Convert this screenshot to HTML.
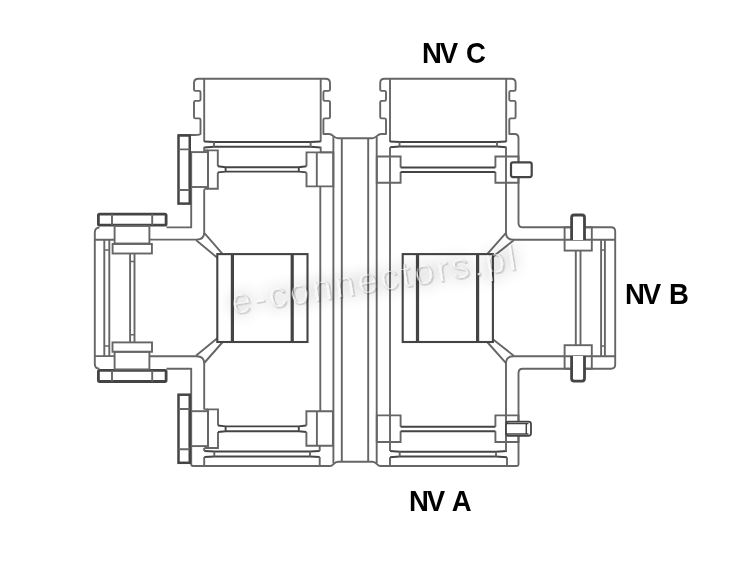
<!DOCTYPE html>
<html><head><meta charset="utf-8">
<style>
html,body{margin:0;padding:0;background:#fff;}
body{width:750px;height:561px;overflow:hidden;position:relative;font-family:"Liberation Sans",sans-serif;}
svg{position:absolute;left:0;top:0;filter:blur(0.3px);}
.l{position:absolute;font-weight:bold;color:#000;font-size:27px;line-height:1;white-space:nowrap;transform:scale(1.02,1.08);transform-origin:0 0;}
</style></head><body>
<svg width="750" height="561" viewBox="0 0 750 561">
<g fill="none" stroke="#666" stroke-width="1.9" stroke-linejoin="round">
<!-- caps outline + column top -->
<path d="M178,135 H194.5 Q200.5,135 200.5,134 V119.80000000000001 Q200.5,118.4 199.1,118.4 H195.4 Q194,118.4 194,117.0 V102.30000000000001 Q194,100.9 195.4,100.9 H199.1 Q200.5,100.9 200.5,99.5 V92.30000000000001 Q200.5,90.9 199.1,90.9 H195.4 Q194,90.9 194,89.5 V83 Q194,78.7 198.5,78.7 H325.5 Q330,78.7 330,83 V89.5 Q330,90.9 328.6,90.9 H324.79999999999995 Q323.4,90.9 323.4,92.30000000000001 V99.5 Q323.4,100.9 324.79999999999995,100.9 H328.6 Q330,100.9 330,102.30000000000001 V117.0 Q330,118.4 328.6,118.4 H324.79999999999995 Q323.4,118.4 323.4,119.80000000000001 V134 H329 C333,134 334,138.3 338,138.3 H372.2 C376.2,138.3 377.2,134 381.2,134 H386 V119.80000000000001 Q386,118.4 384.6,118.4 H381.59999999999997 Q380.2,118.4 380.2,117.0 V102.30000000000001 Q380.2,100.9 381.59999999999997,100.9 H384.6 Q386,100.9 386,99.5 V92.30000000000001 Q386,90.9 384.6,90.9 H381.59999999999997 Q380.2,90.9 380.2,89.5 V83 Q380.2,78.8 384.5,78.8 H511.3 Q515.6,78.8 515.6,83 V89.5 Q515.6,90.9 514.2,90.9 H510.7 Q509.3,90.9 509.3,92.30000000000001 V99.5 Q509.3,100.9 510.7,100.9 H514.2 Q515.6,100.9 515.6,102.30000000000001 V117.0 Q515.6,118.4 514.2,118.4 H510.7 Q509.3,118.4 509.3,119.80000000000001 V134 H514.5 Q518.5,134 518.5,138 V223 Q518.5,227.3 522.8,227.3 H611 Q615.2,227.3 615.2,231.5 V364.5 Q615.2,368.7 611,368.7 H522.8 Q518.5,368.7 518.5,373 V464.5 Q518.5,466 517,466 H380.5 C376.8,466 377,461.8 372.5,461.8 H338 C333.5,461.8 333.7,466 330,466 H193 Q191.2,466 191.2,464 V368.7 H166.5"/>
<!-- left port outer -->
<path d="M191.2,151.8 V227.4 H166.5"/>
<path d="M99.5,227.6 Q94.8,227.6 94.8,232.5 V364 Q94.8,368.6 99.5,368.6"/>
<!-- cap inner verticals -->
<path d="M204.2,78.7 V141.8 M320.7,78.7 V141.8 M390,78.8 V142 M506.2,78.8 V142" />
<!-- column -->
<path d="M333.4,136.2 V463.5 M341.8,138.3 V461.8 M368.2,138.3 V461.8 M376.7,136.2 V463.5"/>
</g>
<g fill="none" stroke="#444" stroke-width="2">
<!-- cap bottoms -->
<path d="M204.2,141.4 L214,142 H310.6 L320.7,141.4 M204.2,147.4 L214,146.8 H310.6 L320.7,147.4 M390,141.4 L399.5,142 H497 L506.2,141.4 M390,147.2 L399.5,146.6 H497 L506.2,147.2"/>
<path d="M204.3,451.0 L214.3,451.6 H310 L319.7,451.0 M204.3,457.0 L214.3,456.4 H310 L319.7,457.0 M390,451.09999999999997 L399.7,451.7 H496 L507,451.09999999999997 M390,457.20000000000005 L399.7,456.6 H496 L507,457.20000000000005"/>
</g>
<g fill="none" stroke="#666" stroke-width="1.9">
<!-- ticks top bands -->
<path d="M214,142 V146.8 M310.6,142 V146.8 M399.5,142 V146.6 M497,142 V146.6"/>
<path d="M214.3,451.6 V456.4 M310,451.6 V456.4 M399.7,451.7 V456.6 M496,451.7 V456.6"/>
<!-- body top lines left -->
<path d="M204.2,152.1 V146.8 M320.7,146.8 V152.4 H333.5"/>
<!-- left body inner walls -->
<path d="M204.2,189.3 V232.5 Q204.2,239.6 196.5,239.6 H149.4 M204.2,232.8 L222.7,254.1 M196.2,240.3 L217.3,257.7"/>
<path d="M204.2,409.4 V363.5 Q204.2,356.2 196.5,356.2 H149.4 M204.2,363 L222.7,342 M196.2,355.5 L217.3,338.3"/>
<path d="M204.2,448 V451 M204.2,457 V466 M319.7,457 V466 M319.7,445.8 V451"/>
<path d="M320.3,186.4 V411.3"/>
<!-- blocks top-left -->
<rect x="189.7" y="152.1" width="18.3" height="34.9"/>
<path d="M217.8,166.3 V150.4 H208 V188.8 H217.8 V172.4"/>
<path d="M204.3,150.4 H208 M204.3,188.8 H208"/>
<path d="M217.8,166.3 L225.6,167.3 H298.8 L306.5,166.3 M217.8,172.4 L225.6,171.6 H298.8 L306.5,172.4 M225.6,167.3 V171.6 M298.8,167.3 V171.6" stroke="#444"/>
<path d="M306.5,166.3 V152.4 H333.3 V186.4 H306.5 V172.4"/>
<path d="M316.8,152.4 V186.4"/>
<!-- blocks bottom-left -->
<rect x="189.7" y="411.2" width="18.3" height="34.9"/>
<path d="M218,425.5 V409.4 H208 V448 H218 V432"/>
<path d="M204.3,409.4 H208 M204.3,448 H208"/>
<path d="M218,425.5 L225.6,426.4 H298.8 L306.4,425.5 M218,432 L225.6,431.2 H298.8 L306.4,432 M225.6,426.4 V431.2 M298.8,426.4 V431.2" stroke="#444"/>
<path d="M306.4,425.5 V411.3 H332.9 V445.8 H306.4 V432"/>
<path d="M316.9,411.3 V445.8"/>
<!-- right body -->
<path d="M390,147.2 V451.1 M390,457.2 V466 M507,457.2 V466"/>
<path d="M506,146.8 V232.5 Q506,239.7 513.7,239.7 H615.2 M506,232.8 L487.2,254.1 M513.7,240.3 L493.2,256.5"/>
<path d="M506,451.4 V363.5 Q506,356.2 513.7,356.2 H615.2 M506,363.2 L487.2,342 M513.7,355.7 L493.2,339.5"/>
<path d="M400.6,167.5 V156.5 H376.8 V182.8 H400.6 V171.9"/>
<path d="M495.4,167.5 V156.5 H518.5 V182.8 H495.4 V171.9"/>
<path d="M400.6,426.7 V415.4 H376.8 V442 H400.6 V431.2"/>
<path d="M495.4,426.7 V415.4 H518.5 V442 H495.4 V431.2"/>
</g>
<g fill="none" stroke="#444" stroke-width="2">
<path d="M400.6,167.5 H495.4 M400.6,171.9 H495.4"/>
<path d="M400.6,426.7 H495.4 M400.6,431.2 H495.4"/>
<!-- flanges -->
<rect x="178.5" y="135.5" width="11.25" height="68.1" stroke-width="2.5"/>
<rect x="178.5" y="394.7" width="11.25" height="68.1" stroke-width="2.5"/>
<!-- pins right body -->
<rect x="511" y="162.3" width="20.7" height="14.8" rx="2" fill="#fff" stroke-width="2.2"/>
<rect x="506" y="421.6" width="25" height="14.2" rx="2.5" fill="#fff" stroke-width="1.8"/>
<path d="M506,423.4 H528.5 M506,434 H528.5 M526.3,423.4 V434" stroke-width="1.5"/>
<!-- port flange left -->
<rect x="98.4" y="214.1" width="67.7" height="11" rx="1.2" stroke-width="2.8"/>
<rect x="98.4" y="370.3" width="67.7" height="11.2" rx="1.2" stroke-width="2.8"/>
</g>
<g fill="none" stroke="#666" stroke-width="1.9">
<path d="M178.5,149.4 H189.7 M178.5,190 H189.7 M178.5,409 H189.7 M178.5,449.2 H189.7"/>
<path d="M112,214.1 V225.1 M152.2,214.1 V225.1 M112,370.3 V381.5 M152.2,370.3 V381.5"/>
<!-- left plugs -->
<rect x="114.6" y="225.9" width="34.8" height="17.6"/>
<rect x="112.6" y="244" width="39.3" height="9.5"/>
<rect x="114.6" y="351.8" width="34.8" height="17.6"/>
<rect x="112.5" y="342.4" width="39.5" height="9.4"/>
<path d="M94.8,239.7 H114.6 M94.8,356.1 H114.6"/>
<path d="M104.3,239.7 V356.1 M109.3,239.7 V356.1"/>
<path d="M130.1,253.7 V342.4 M134.5,253.7 V342.4"/>
<path d="M104.3,250 H109.3 M104.3,346 H109.3 M130.1,261.4 H134.5 M130.1,334.8 H134.5 M601.1,250 H604.9 M601.1,346 H604.9" stroke-width="1.5"/>
<!-- right plugs -->
<rect x="564.6" y="227.3" width="27.2" height="23.3"/>
<rect x="564.6" y="345.2" width="27.2" height="23.5"/>
<path d="M575.8,250.6 V345.2 M580.5,250.6 V345.2 M601.1,239.6 V356 M604.9,239.6 V356"/>
</g>
<g fill="none" stroke="#444" stroke-width="2.8">
<path d="M571.6,240 V217.5 Q571.6,215 574.1,215 H582 Q584.5,215 584.5,217.5 V240" fill="#fff"/>
<path d="M571.6,356.1 V378.6 Q571.6,381.1 574.1,381.1 H582 Q584.5,381.1 584.5,378.6 V356.1" fill="#fff"/>
</g>
<!-- inserts -->
<g fill="none" stroke="#444" stroke-width="2.1">
<rect x="217.3" y="254.1" width="90.2" height="87.9"/>
<rect x="402.7" y="254.1" width="90.2" height="87.9"/>
</g>
<g fill="none" stroke="#444" stroke-width="3.2">
<path d="M232.4,254.1 V342 M292.2,254.1 V342 M417.5,254.1 V342 M477.6,254.1 V342"/>
</g>
<defs>
<filter id="wf" x="-20%" y="-60%" width="140%" height="220%">
<feGaussianBlur in="SourceAlpha" stdDeviation="8" result="g"/>
<feComponentTransfer in="g" result="g2"><feFuncA type="linear" slope="0.3"/></feComponentTransfer>
<feGaussianBlur in="SourceAlpha" stdDeviation="0.6" result="s"/>
<feOffset in="s" dx="0.7" dy="0.7" result="so"/>
<feComponentTransfer in="so" result="so2"><feFuncA type="linear" slope="0.16"/></feComponentTransfer>
<feMorphology in="SourceGraphic" operator="erode" radius="0.55" result="er"/>
<feMerge><feMergeNode in="g2"/><feMergeNode in="so2"/><feMergeNode in="er"/></feMerge>
</filter>
</defs>
<text x="233" y="315" transform="rotate(-9 233 315)" font-family="Liberation Sans" font-size="36" letter-spacing="3" fill="#fff" filter="url(#wf)">e-connectors.pl</text>
</svg>
<div class="l" style="left:422px;top:39px;">N<span style="margin-left:-2px">V</span> C</div>
<div class="l" style="left:625px;top:280px;">N<span style="margin-left:-2px">V</span> B</div>
<div class="l" style="left:409px;top:487px;">N<span style="margin-left:-2px">V</span> A</div>
</body></html>
